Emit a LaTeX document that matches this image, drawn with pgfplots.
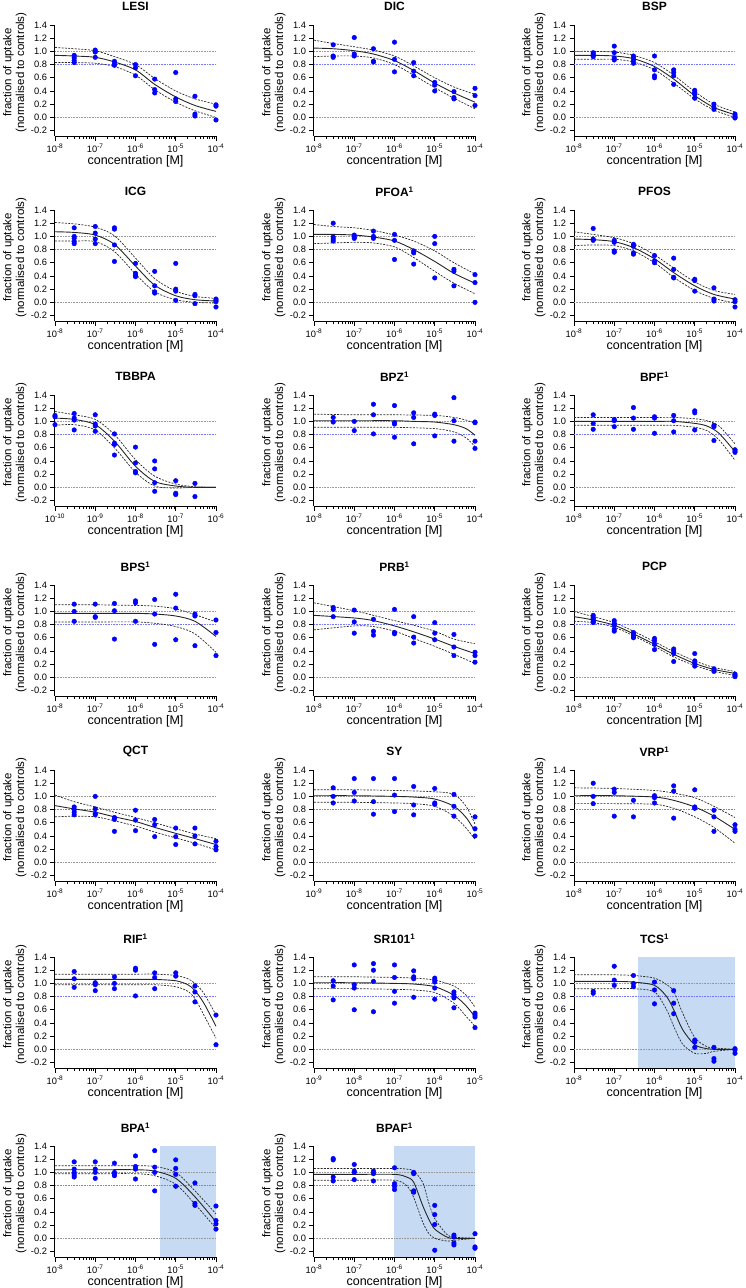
\documentclass[border=0pt]{standalone}
\usepackage{fontspec}
\setmainfont{Liberation Sans}
\usepackage{pgfplots}
\pgfplotsset{compat=1.18}

\definecolor{shade}{RGB}{198,218,244}
\definecolor{refblue}{RGB}{120,120,255}
\newcommand{\ex}[1]{10\textsuperscript{#1}}
% dotted reference lines at 1.0, 0.8 and 0.0
\newcommand{\refs}[2]{%
  \addplot[refg] coordinates {(#1,1) (#2,1)};
  \addplot[refb] coordinates {(#1,0.8) (#2,0.8)};
  \addplot[refg] coordinates {(#1,0) (#2,0)};}

\pgfplotsset{
  panel/.style={
    scale only axis, width=161pt, height=111pt, anchor=south west,
    ymin=-0.283, ymax=1.4,
    axis lines=left, axis line style={-, line width=1pt},
    tick align=outside, major tick length=4.5pt, minor tick length=2.8pt,
    tick style={black, line width=0.8pt},
    ytick={-0.2,0,0.2,0.4,0.6,0.8,1,1.2,1.4},
    yticklabels={-0.2,0.0,0.2,0.4,0.6,0.8,1.0,1.2,1.4},
    tick label style={font=\fontsize{9.3}{10}\selectfont},
    clip=false,
    title style={at={(0.5,1.11)}, anchor=center, font=\fontsize{12}{13}\selectfont\bfseries},
    xlabel={concentration [M]},
    xlabel style={at={(0.5,-0.225)}, anchor=center, font=\fontsize{12.5}{14}\selectfont},
    ylabel={fraction of uptake\\(normalised to controls)},
    ylabel style={at={(-0.25,0.572)}, anchor=center, align=center, font=\fontsize{11.5}{12.8}\selectfont},
  },
  rgA/.style={panel, xmin=1e-8, xmax=1e-4,
    xtick={1e-8,1e-7,1e-6,1e-5,1e-4},
    xticklabels={\ex{-8},\ex{-7},\ex{-6},\ex{-5},\ex{-4}},
    minor xtick={2e-8,3e-8,4e-8,5e-8,6e-8,7e-8,8e-8,9e-8,
      2e-7,3e-7,4e-7,5e-7,6e-7,7e-7,8e-7,9e-7,
      2e-6,3e-6,4e-6,5e-6,6e-6,7e-6,8e-6,9e-6,
      2e-5,3e-5,4e-5,5e-5,6e-5,7e-5,8e-5,9e-5}},
  rgB/.style={panel, xmin=1e-9, xmax=1e-5,
    xtick={1e-9,1e-8,1e-7,1e-6,1e-5},
    xticklabels={\ex{-9},\ex{-8},\ex{-7},\ex{-6},\ex{-5}},
    minor xtick={2e-9,3e-9,4e-9,5e-9,6e-9,7e-9,8e-9,9e-9,
      2e-8,3e-8,4e-8,5e-8,6e-8,7e-8,8e-8,9e-8,
      2e-7,3e-7,4e-7,5e-7,6e-7,7e-7,8e-7,9e-7,
      2e-6,3e-6,4e-6,5e-6,6e-6,7e-6,8e-6,9e-6}},
  rgC/.style={panel, xmin=1e-10, xmax=1e-6,
    xtick={1e-10,1e-9,1e-8,1e-7,1e-6},
    xticklabels={\ex{-10},\ex{-9},\ex{-8},\ex{-7},\ex{-6}},
    minor xtick={2e-10,3e-10,4e-10,5e-10,6e-10,7e-10,8e-10,9e-10,
      2e-9,3e-9,4e-9,5e-9,6e-9,7e-9,8e-9,9e-9,
      2e-8,3e-8,4e-8,5e-8,6e-8,7e-8,8e-8,9e-8,
      2e-7,3e-7,4e-7,5e-7,6e-7,7e-7,8e-7,9e-7}},
  refg/.style={gray!80, densely dotted, line width=0.6pt},
  refb/.style={refblue, densely dotted, line width=0.6pt},
  pts/.style={only marks, mark=*, mark size=2.3pt, color=blue},
  fitline/.style={black!85, line width=0.9pt, smooth},
  band/.style={black!85, line width=0.7pt, smooth, dash pattern=on 2pt off 1.3pt},
  shd/.style={fill=shade, draw=none},
}

\begin{document}
\begin{tikzpicture}
\path[use as bounding box] (0,0) rectangle (746pt,-1288pt);

% ---------------- row 1
\begin{semilogxaxis}[rgA, at={(55pt,-136pt)}, title={LESI}]
\refs{1e-8}{1e-4}
\addplot[band] coordinates {(1e-8,1.06)(3e-8,1.04)(1e-7,1.01)(3e-7,0.92)(1e-6,0.80)(3e-6,0.59)(1e-5,0.40)(3e-5,0.28)(1e-4,0.20)};
\addplot[band] coordinates {(1e-8,0.83)(3e-8,0.83)(1e-7,0.82)(3e-7,0.77)(1e-6,0.64)(3e-6,0.42)(1e-5,0.23)(3e-5,0.10)(1e-4,0.0)};
\addplot[fitline] coordinates {(1e-8,0.94)(3e-8,0.93)(1e-7,0.91)(3e-7,0.84)(1e-6,0.72)(3e-6,0.50)(1e-5,0.31)(3e-5,0.18)(1e-4,0.09)};
\addplot[pts] coordinates {(3e-8,0.94)(3e-8,0.90)(3e-8,0.86)(3e-8,0.83)
(1e-7,1.02)(1e-7,0.99)(1e-7,0.91)(3e-7,0.85)(3e-7,0.81)(3e-7,0.79)
(1e-6,0.80)(1e-6,0.75)(1e-6,0.63)(3e-6,0.58)(3e-6,0.42)(3e-6,0.37)
(1e-5,0.68)(1e-5,0.28)(1e-5,0.24)(3e-5,0.32)(3e-5,0.05)(3e-5,0.02)
(1e-4,0.19)(1e-4,0.17)(1e-4,-0.04)};
\end{semilogxaxis}

\begin{semilogxaxis}[rgA, at={(314pt,-136pt)}, title={DIC}]
\refs{1e-8}{1e-4}
\addplot[band] coordinates {(1e-8,1.17)(3e-8,1.12)(1e-7,1.07)(3e-7,1.02)(1e-6,0.93)(3e-6,0.78)(1e-5,0.60)(3e-5,0.46)(1e-4,0.35)};
\addplot[band] coordinates {(1e-8,0.92)(3e-8,0.93)(1e-7,0.93)(3e-7,0.90)(1e-6,0.80)(3e-6,0.64)(1e-5,0.45)(3e-5,0.29)(1e-4,0.13)};
\addplot[fitline] coordinates {(1e-8,1.05)(3e-8,1.04)(1e-7,1.01)(3e-7,0.96)(1e-6,0.86)(3e-6,0.71)(1e-5,0.52)(3e-5,0.37)(1e-4,0.23)};
\addplot[pts] coordinates {(3e-8,1.10)(3e-8,0.93)(3e-8,0.91)
(1e-7,1.21)(1e-7,0.96)(1e-7,0.93)(3e-7,1.04)(3e-7,0.85)(3e-7,0.84)
(1e-6,1.14)(1e-6,0.88)(1e-6,0.69)(3e-6,0.83)(3e-6,0.70)(3e-6,0.63)
(1e-5,0.53)(1e-5,0.49)(1e-5,0.40)(3e-5,0.39)(3e-5,0.30)(3e-5,0.28)
(1e-4,0.44)(1e-4,0.33)(1e-4,0.18)};
\end{semilogxaxis}

\begin{semilogxaxis}[rgA, at={(574pt,-136pt)}, title={BSP}]
\refs{1e-8}{1e-4}
\addplot[band] coordinates {(1e-8,1.0)(3e-8,1.0)(1e-7,0.99)(3e-7,0.94)(1e-6,0.83)(3e-6,0.64)(1e-5,0.39)(3e-5,0.20)(1e-4,0.08)};
\addplot[band] coordinates {(1e-8,0.88)(3e-8,0.88)(1e-7,0.88)(3e-7,0.84)(1e-6,0.72)(3e-6,0.52)(1e-5,0.28)(3e-5,0.11)(1e-4,0.0)};
\addplot[fitline] coordinates {(1e-8,0.94)(3e-8,0.94)(1e-7,0.93)(3e-7,0.89)(1e-6,0.77)(3e-6,0.58)(1e-5,0.33)(3e-5,0.15)(1e-4,0.04)};
\addplot[pts] coordinates {(3e-8,0.98)(3e-8,0.96)(3e-8,0.94)(3e-8,0.92)
(1e-7,1.08)(1e-7,0.98)(1e-7,0.90)(1e-7,0.87)(3e-7,0.93)(3e-7,0.90)(3e-7,0.86)(3e-7,0.82)
(1e-6,0.93)(1e-6,0.72)(1e-6,0.63)(1e-6,0.60)(3e-6,0.72)(3e-6,0.68)(3e-6,0.63)(3e-6,0.50)
(1e-5,0.41)(1e-5,0.38)(1e-5,0.35)(1e-5,0.29)(3e-5,0.20)(3e-5,0.15)(3e-5,0.12)
(1e-4,0.05)(1e-4,0.02)(1e-4,0.0)(1e-4,-0.01)};
\end{semilogxaxis}

% ---------------- row 2
\begin{semilogxaxis}[rgA, at={(55pt,-321pt)}, title={ICG}]
\refs{1e-8}{1e-4}
\addplot[band] coordinates {(1e-8,1.21)(3e-8,1.19)(1e-7,1.14)(3e-7,1.01)(1e-6,0.67)(3e-6,0.36)(1e-5,0.17)(3e-5,0.09)(1e-4,0.06)};
\addplot[band] coordinates {(1e-8,0.93)(3e-8,0.93)(1e-7,0.92)(3e-7,0.77)(1e-6,0.43)(3e-6,0.16)(1e-5,0.04)(3e-5,0.0)(1e-4,-0.01)};
\addplot[fitline] coordinates {(1e-8,1.07)(3e-8,1.06)(1e-7,1.02)(3e-7,0.88)(1e-6,0.55)(3e-6,0.26)(1e-5,0.10)(3e-5,0.04)(1e-4,0.02)};
\addplot[pts] coordinates {(3e-8,1.13)(3e-8,1.00)(3e-8,0.97)(3e-8,0.92)(3e-8,0.89)
(1e-7,1.15)(1e-7,1.05)(1e-7,0.96)(1e-7,0.89)(3e-7,1.13)(3e-7,1.11)(3e-7,0.87)(3e-7,0.62)
(1e-6,0.59)(1e-6,0.44)(1e-6,0.41)(1e-6,0.39)(3e-6,0.47)(3e-6,0.25)(3e-6,0.16)(3e-6,0.14)
(1e-5,0.59)(1e-5,0.20)(1e-5,0.17)(1e-5,0.03)(3e-5,0.12)(3e-5,0.10)(3e-5,-0.02)
(1e-4,0.05)(1e-4,0.03)(1e-4,0.01)(1e-4,-0.07)};
\end{semilogxaxis}

\begin{semilogxaxis}[rgA, at={(314pt,-321pt)}, title={PFOA\textsuperscript{1}}]
\refs{1e-8}{1e-4}
\addplot[band] coordinates {(1e-8,1.18)(3e-8,1.15)(1e-7,1.13)(3e-7,1.09)(1e-6,1.02)(3e-6,0.93)(1e-5,0.78)(3e-5,0.60)(1e-4,0.43)};
\addplot[band] coordinates {(1e-8,0.89)(3e-8,0.90)(1e-7,0.91)(3e-7,0.90)(1e-6,0.84)(3e-6,0.68)(1e-5,0.47)(3e-5,0.29)(1e-4,0.13)};
\addplot[fitline] coordinates {(1e-8,1.03)(3e-8,1.03)(1e-7,1.02)(3e-7,0.99)(1e-6,0.93)(3e-6,0.80)(1e-5,0.62)(3e-5,0.44)(1e-4,0.29)};
\addplot[pts] coordinates {(3e-8,1.20)(3e-8,0.99)(3e-8,0.96)(3e-8,0.93)
(1e-7,1.02)(1e-7,0.99)(1e-7,0.97)(3e-7,1.08)(3e-7,1.00)(3e-7,0.97)
(1e-6,1.03)(1e-6,0.94)(1e-6,0.65)(3e-6,0.78)(3e-6,0.75)(3e-6,0.58)
(1e-5,1.00)(1e-5,0.89)(1e-5,0.37)(3e-5,0.50)(3e-5,0.47)(3e-5,0.25)
(1e-4,0.42)(1e-4,0.30)(1e-4,0.0)};
\end{semilogxaxis}

\begin{semilogxaxis}[rgA, at={(574pt,-321pt)}, title={PFOS}]
\refs{1e-8}{1e-4}
\addplot[band] coordinates {(1e-8,1.07)(3e-8,1.03)(1e-7,0.98)(3e-7,0.89)(1e-6,0.72)(3e-6,0.52)(1e-5,0.31)(3e-5,0.18)(1e-4,0.12)};
\addplot[band] coordinates {(1e-8,0.86)(3e-8,0.87)(1e-7,0.86)(3e-7,0.78)(1e-6,0.60)(3e-6,0.38)(1e-5,0.18)(3e-5,0.06)(1e-4,-0.01)};
\addplot[fitline] coordinates {(1e-8,0.96)(3e-8,0.95)(1e-7,0.92)(3e-7,0.83)(1e-6,0.66)(3e-6,0.45)(1e-5,0.25)(3e-5,0.12)(1e-4,0.05)};
\addplot[pts] coordinates {(3e-8,1.12)(3e-8,0.96)(3e-8,0.94)
(1e-7,0.94)(1e-7,0.91)(1e-7,0.78)(1e-7,0.76)(3e-7,0.88)(3e-7,0.85)(3e-7,0.75)(3e-7,0.73)
(1e-6,0.71)(1e-6,0.63)(1e-6,0.60)(3e-6,0.67)(3e-6,0.50)(3e-6,0.38)(3e-6,0.37)
(1e-5,0.35)(1e-5,0.33)(1e-5,0.17)(3e-5,0.22)(3e-5,0.05)(3e-5,0.02)
(1e-4,0.04)(1e-4,0.01)(1e-4,-0.07)};
\end{semilogxaxis}

% ---------------- row 3
\begin{semilogxaxis}[rgC, at={(55pt,-506pt)}, title={TBBPA}]
\refs{1e-10}{1e-6}
\addplot[band] coordinates {(1e-10,1.15)(3e-10,1.10)(1e-9,1.03)(3e-9,0.80)(1e-8,0.42)(3e-8,0.17)(1e-7,0.05)(3e-7,0.01)(1e-6,0.0)};
\addplot[band] coordinates {(1e-10,0.94)(3e-10,0.95)(1e-9,0.87)(3e-9,0.60)(1e-8,0.23)(3e-8,0.02)(1e-7,-0.01)(3e-7,0.0)(1e-6,0.0)};
\addplot[fitline] coordinates {(1e-10,1.05)(3e-10,1.03)(1e-9,0.95)(3e-9,0.70)(1e-8,0.32)(3e-8,0.09)(1e-7,0.02)(3e-7,0.0)(1e-6,0.0)};
\addplot[pts] coordinates {(1e-10,1.09)(1e-10,1.07)(1e-10,0.95)
(3e-10,1.12)(3e-10,1.05)(3e-10,1.02)(3e-10,0.87)(1e-9,1.10)(1e-9,0.96)(1e-9,0.93)(1e-9,0.85)
(3e-9,0.81)(3e-9,0.67)(3e-9,0.65)(3e-9,0.49)(1e-8,0.61)(1e-8,0.37)(1e-8,0.24)(1e-8,0.22)
(3e-8,0.40)(3e-8,0.28)(3e-8,0.07)(3e-8,-0.06)(1e-7,0.10)(1e-7,-0.09)(1e-7,-0.11)
(3e-7,0.06)(3e-7,-0.14)};
\end{semilogxaxis}

\begin{semilogxaxis}[rgA, at={(314pt,-506pt)}, title={BPZ\textsuperscript{1}}]
\refs{1e-8}{1e-4}
\addplot[band] coordinates {(1e-8,1.11)(1e-7,1.10)(1e-6,1.10)(1e-5,1.09)(3e-5,1.06)(6e-5,1.02)(1e-4,0.97)};
\addplot[band] coordinates {(1e-8,0.91)(1e-7,0.91)(1e-6,0.91)(1e-5,0.89)(3e-5,0.84)(6e-5,0.75)(1e-4,0.62)};
\addplot[fitline] coordinates {(1e-8,1.01)(1e-7,1.01)(1e-6,1.01)(3e-6,1.0)(1e-5,0.99)(3e-5,0.95)(6e-5,0.89)(1e-4,0.79)};
\addplot[pts] coordinates {(3e-8,1.06)(3e-8,0.99)(1e-7,1.00)(1e-7,0.86)
(3e-7,1.26)(3e-7,1.10)(3e-7,0.81)(1e-6,1.24)(1e-6,0.98)(1e-6,0.96)(1e-6,0.76)
(3e-6,1.13)(3e-6,1.06)(3e-6,0.66)(1e-5,1.11)(1e-5,1.09)(1e-5,0.78)
(3e-5,1.36)(3e-5,1.01)(3e-5,0.70)(1e-4,0.99)(1e-4,0.98)(1e-4,0.70)(1e-4,0.59)};
\end{semilogxaxis}

\begin{semilogxaxis}[rgA, at={(574pt,-506pt)}, title={BPF\textsuperscript{1}}]
\refs{1e-8}{1e-4}
\addplot[band] coordinates {(1e-8,1.06)(1e-7,1.06)(1e-6,1.06)(3e-6,1.06)(1e-5,1.04)(2e-5,1.01)(4e-5,0.93)(1e-4,0.66)};
\addplot[band] coordinates {(1e-8,0.94)(1e-7,0.94)(1e-6,0.94)(3e-6,0.94)(1e-5,0.91)(2e-5,0.86)(4e-5,0.72)(1e-4,0.41)};
\addplot[fitline] coordinates {(1e-8,1.0)(1e-7,1.0)(1e-6,1.0)(3e-6,1.0)(1e-5,0.97)(2e-5,0.93)(4e-5,0.82)(1e-4,0.54)};
\addplot[pts] coordinates {(3e-8,1.10)(3e-8,0.97)(3e-8,0.88)(1e-7,1.03)(1e-7,1.01)(1e-7,0.92)
(3e-7,1.21)(3e-7,1.05)(3e-7,0.88)(1e-6,1.07)(1e-6,1.05)(1e-6,0.82)
(3e-6,1.09)(3e-6,1.01)(3e-6,0.84)(1e-5,1.16)(1e-5,1.13)(1e-5,0.87)
(3e-5,0.94)(3e-5,0.92)(3e-5,0.71)(1e-4,0.57)(1e-4,0.55)(1e-4,0.53)};
\end{semilogxaxis}

% ---------------- row 4
\begin{semilogxaxis}[rgA, at={(55pt,-696pt)}, title={BPS\textsuperscript{1}}]
\refs{1e-8}{1e-4}
\addplot[band] coordinates {(1e-8,1.10)(1e-7,1.10)(1e-6,1.09)(3e-6,1.08)(1e-5,1.04)(3e-5,0.95)(1e-4,0.84)};
\addplot[band] coordinates {(1e-8,0.84)(1e-7,0.84)(1e-6,0.84)(3e-6,0.82)(1e-5,0.77)(3e-5,0.66)(1e-4,0.38)};
\addplot[fitline] coordinates {(1e-8,0.97)(1e-7,0.97)(1e-6,0.97)(3e-6,0.96)(1e-5,0.93)(3e-5,0.85)(1e-4,0.62)};
\addplot[pts] coordinates {(3e-8,1.11)(3e-8,1.00)(3e-8,0.85)(1e-7,1.11)(1e-7,0.92)(1e-7,0.91)
(3e-7,1.12)(3e-7,1.01)(3e-7,0.58)(1e-6,1.16)(1e-6,1.13)(1e-6,0.85)
(3e-6,1.18)(3e-6,0.96)(3e-6,0.50)(1e-5,1.26)(1e-5,1.05)(1e-5,0.57)
(3e-5,0.96)(3e-5,0.93)(3e-5,0.48)(1e-4,0.87)(1e-4,0.68)(1e-4,0.33)};
\end{semilogxaxis}

\begin{semilogxaxis}[rgA, at={(314pt,-696pt)}, title={PRB\textsuperscript{1}}]
\refs{1e-8}{1e-4}
\addplot[band] coordinates {(1e-8,1.13)(1e-7,1.01)(3e-7,0.94)(1e-6,0.86)(3e-6,0.79)(1e-5,0.70)(3e-5,0.58)(1e-4,0.51)};
\addplot[band] coordinates {(1e-8,0.72)(1e-7,0.78)(3e-7,0.77)(1e-6,0.70)(3e-6,0.59)(1e-5,0.47)(3e-5,0.35)(1e-4,0.21)};
\addplot[fitline] coordinates {(1e-8,0.94)(1e-7,0.90)(3e-7,0.86)(1e-6,0.78)(3e-6,0.69)(1e-5,0.58)(3e-5,0.47)(1e-4,0.36)};
\addplot[pts] coordinates {(3e-8,1.06)(3e-8,1.03)(3e-8,0.92)(1e-7,1.02)(1e-7,0.84)(1e-7,0.67)
(3e-7,0.88)(3e-7,0.70)(3e-7,0.64)(1e-6,1.03)(1e-6,0.68)(1e-6,0.66)
(3e-6,0.92)(3e-6,0.61)(3e-6,0.52)(1e-5,0.83)(1e-5,0.67)(1e-5,0.57)
(3e-5,0.65)(3e-5,0.46)(3e-5,0.33)(1e-4,0.38)(1e-4,0.33)(1e-4,0.23)};
\end{semilogxaxis}

\begin{semilogxaxis}[rgA, at={(574pt,-696pt)}, title={PCP}]
\refs{1e-8}{1e-4}
\addplot[band] coordinates {(1e-8,1.0)(3e-8,0.92)(1e-7,0.83)(3e-7,0.70)(1e-6,0.54)(3e-6,0.39)(1e-5,0.25)(3e-5,0.15)(1e-4,0.09)};
\addplot[band] coordinates {(1e-8,0.85)(3e-8,0.83)(1e-7,0.76)(3e-7,0.63)(1e-6,0.47)(3e-6,0.31)(1e-5,0.18)(3e-5,0.09)(1e-4,0.03)};
\addplot[fitline] coordinates {(1e-8,0.92)(3e-8,0.87)(1e-7,0.79)(3e-7,0.66)(1e-6,0.50)(3e-6,0.35)(1e-5,0.21)(3e-5,0.12)(1e-4,0.06)};
\addplot[pts] coordinates {(3e-8,0.94)(3e-8,0.91)(3e-8,0.89)(3e-8,0.87)(3e-8,0.85)(3e-8,0.83)
(1e-7,0.86)(1e-7,0.82)(1e-7,0.79)(1e-7,0.73)(1e-7,0.70)(3e-7,0.68)(3e-7,0.65)(3e-7,0.62)(3e-7,0.60)
(1e-6,0.59)(1e-6,0.55)(1e-6,0.50)(1e-6,0.42)(3e-6,0.43)(3e-6,0.40)(3e-6,0.36)(3e-6,0.24)
(1e-5,0.36)(1e-5,0.25)(1e-5,0.21)(1e-5,0.17)(3e-5,0.13)(3e-5,0.11)(3e-5,0.09)
(1e-4,0.05)(1e-4,0.03)(1e-4,0.01)};
\end{semilogxaxis}

% ---------------- row 5
\begin{semilogxaxis}[rgA, at={(55pt,-881pt)}, title={QCT}]
\refs{1e-8}{1e-4}
\addplot[band] coordinates {(1e-8,1.02)(3e-8,0.92)(1e-7,0.84)(3e-7,0.76)(1e-6,0.68)(3e-6,0.60)(1e-5,0.51)(3e-5,0.43)(1e-4,0.36)};
\addplot[band] coordinates {(1e-8,0.69)(3e-8,0.70)(1e-7,0.69)(3e-7,0.63)(1e-6,0.55)(3e-6,0.46)(1e-5,0.37)(3e-5,0.29)(1e-4,0.19)};
\addplot[fitline] coordinates {(1e-8,0.86)(3e-8,0.81)(1e-7,0.76)(3e-7,0.69)(1e-6,0.62)(3e-6,0.53)(1e-5,0.44)(3e-5,0.36)(1e-4,0.27)};
\addplot[pts] coordinates {(3e-8,0.84)(3e-8,0.80)(3e-8,0.76)(3e-8,0.72)
(1e-7,1.00)(1e-7,0.81)(1e-7,0.74)(1e-7,0.72)(3e-7,0.68)(3e-7,0.65)(3e-7,0.47)
(1e-6,0.79)(1e-6,0.64)(1e-6,0.48)(3e-6,0.65)(3e-6,0.57)(3e-6,0.39)
(1e-5,0.52)(1e-5,0.39)(1e-5,0.27)(3e-5,0.52)(3e-5,0.40)(3e-5,0.28)
(1e-4,0.32)(1e-4,0.24)(1e-4,0.19)};
\end{semilogxaxis}

\begin{semilogxaxis}[rgB, at={(314pt,-881pt)}, title={SY}]
\refs{1e-9}{1e-5}
\addplot[band] coordinates {(1e-9,1.10)(1e-8,1.10)(1e-7,1.09)(1e-6,1.07)(3e-6,1.03)(6e-6,0.85)(1e-5,0.58)};
\addplot[band] coordinates {(1e-9,0.91)(1e-8,0.91)(1e-7,0.90)(3e-7,0.89)(1e-6,0.85)(3e-6,0.70)(6e-6,0.52)(1e-5,0.35)};
\addplot[fitline] coordinates {(1e-9,1.01)(1e-8,1.01)(1e-7,1.0)(3e-7,0.99)(1e-6,0.96)(3e-6,0.85)(6e-6,0.68)(1e-5,0.47)};
\addplot[pts] coordinates {(3e-9,1.13)(3e-9,1.00)(3e-9,0.90)(1e-8,1.27)(1e-8,1.06)(1e-8,0.93)
(3e-8,1.27)(3e-8,0.92)(3e-8,0.73)(1e-7,1.27)(1e-7,1.02)(1e-7,0.77)
(3e-7,1.15)(3e-7,0.87)(3e-7,0.72)(1e-6,1.12)(1e-6,0.90)(1e-6,0.88)
(3e-6,1.03)(3e-6,0.85)(3e-6,0.70)(1e-5,0.69)(1e-5,0.51)(1e-5,0.40)};
\end{semilogxaxis}

\begin{semilogxaxis}[rgA, at={(574pt,-881pt)}, title={VRP\textsuperscript{1}}]
\refs{1e-8}{1e-4}
\addplot[band] coordinates {(1e-8,1.13)(1e-7,1.12)(1e-6,1.09)(3e-6,1.05)(1e-5,0.98)(3e-5,0.85)(1e-4,0.68)};
\addplot[band] coordinates {(1e-8,0.89)(1e-7,0.89)(1e-6,0.88)(3e-6,0.82)(1e-5,0.69)(3e-5,0.53)(1e-4,0.29)};
\addplot[fitline] coordinates {(1e-8,1.01)(1e-7,1.01)(1e-6,0.99)(3e-6,0.94)(1e-5,0.84)(3e-5,0.70)(1e-4,0.50)};
\addplot[pts] coordinates {(3e-8,1.20)(3e-8,1.00)(3e-8,0.89)(1e-7,1.11)(1e-7,1.06)(1e-7,0.70)
(3e-7,0.94)(3e-7,0.69)(1e-6,1.01)(1e-6,0.98)(1e-6,0.90)
(3e-6,1.16)(3e-6,1.08)(3e-6,0.67)(1e-5,1.10)(1e-5,0.84)(1e-5,0.82)
(3e-5,0.79)(3e-5,0.69)(3e-5,0.47)(1e-4,0.57)(1e-4,0.50)(1e-4,0.47)};
\end{semilogxaxis}

% ---------------- row 6
\begin{semilogxaxis}[rgA, at={(55pt,-1068pt)}, title={RIF\textsuperscript{1}}]
\refs{1e-8}{1e-4}
\addplot[band] coordinates {(1e-8,1.14)(1e-7,1.14)(1e-6,1.14)(3e-6,1.14)(1e-5,1.12)(2e-5,1.07)(3e-5,1.0)(5e-5,0.85)(1e-4,0.52)};
\addplot[band] coordinates {(1e-8,0.98)(1e-7,0.98)(1e-6,0.98)(3e-6,0.98)(1e-5,0.95)(2e-5,0.88)(3e-5,0.77)(5e-5,0.52)(1e-4,0.17)};
\addplot[fitline] coordinates {(1e-8,1.06)(1e-7,1.06)(1e-6,1.06)(3e-6,1.06)(1e-5,1.04)(2e-5,0.98)(3e-5,0.89)(5e-5,0.70)(1e-4,0.35)};
\addplot[pts] coordinates {(3e-8,1.18)(3e-8,1.07)(3e-8,0.94)(1e-7,1.01)(1e-7,0.98)(1e-7,0.89)
(3e-7,1.10)(3e-7,1.00)(3e-7,0.92)(1e-6,1.23)(1e-6,1.20)(1e-6,0.81)
(3e-6,1.16)(3e-6,1.09)(3e-6,0.92)(1e-5,1.16)(1e-5,1.11)
(3e-5,0.96)(3e-5,0.87)(3e-5,0.72)(1e-4,0.52)(1e-4,0.07)};
\end{semilogxaxis}

\begin{semilogxaxis}[rgB, at={(314pt,-1068pt)}, title={SR101\textsuperscript{1}}]
\refs{1e-9}{1e-5}
\addplot[band] coordinates {(1e-9,1.10)(1e-8,1.10)(1e-7,1.09)(3e-7,1.08)(1e-6,1.05)(3e-6,0.96)(6e-6,0.82)(1e-5,0.64)};
\addplot[band] coordinates {(1e-9,0.92)(1e-8,0.92)(1e-7,0.91)(3e-7,0.90)(1e-6,0.86)(3e-6,0.70)(6e-6,0.50)(1e-5,0.35)};
\addplot[fitline] coordinates {(1e-9,1.01)(1e-8,1.01)(1e-7,1.0)(3e-7,0.99)(1e-6,0.95)(3e-6,0.82)(6e-6,0.66)(1e-5,0.49)};
\addplot[pts] coordinates {(3e-9,1.04)(3e-9,0.96)(3e-9,0.75)(1e-8,1.28)(1e-8,0.98)(1e-8,0.93)(1e-8,0.60)
(3e-8,1.30)(3e-8,1.20)(3e-8,1.03)(3e-8,0.57)(1e-7,1.28)(1e-7,1.09)(1e-7,0.88)(1e-7,0.70)
(3e-7,1.19)(3e-7,1.10)(3e-7,1.07)(3e-7,0.79)(1e-6,1.08)(1e-6,1.05)(1e-6,1.02)(1e-6,0.93)(1e-6,0.76)
(3e-6,0.87)(3e-6,0.83)(3e-6,0.80)(3e-6,0.78)(3e-6,0.63)(1e-5,0.55)(1e-5,0.52)(1e-5,0.49)(1e-5,0.33)};
\end{semilogxaxis}

\begin{semilogxaxis}[rgA, at={(574pt,-1068pt)}, title={TCS\textsuperscript{1}}]
\addplot[shd] coordinates {(3.8e-7,-0.283)(1e-4,-0.283)(1e-4,1.4)(3.8e-7,1.4)} -- cycle;
\refs{1e-8}{1e-4}
\addplot[band] coordinates {(1e-8,1.13)(1e-7,1.13)(3e-7,1.12)(1e-6,1.08)(2e-6,0.98)(3e-6,0.88)(5e-6,0.55)(1e-5,0.18)(2e-5,0.04)(3e-5,0.02)(1e-4,0.0)};
\addplot[band] coordinates {(1e-8,0.92)(1e-7,0.92)(3e-7,0.92)(1e-6,0.87)(2e-6,0.60)(3e-6,0.35)(5e-6,0.08)(1e-5,-0.06)(2e-5,-0.06)(3e-5,-0.03)(1e-4,0.0)};
\addplot[fitline] coordinates {(1e-8,1.03)(1e-7,1.03)(3e-7,1.02)(1e-6,0.97)(2e-6,0.80)(3e-6,0.60)(5e-6,0.30)(1e-5,0.07)(2e-5,0.01)(3e-5,0.0)(1e-4,0.0)};
\addplot[pts] coordinates {(3e-8,0.88)(3e-8,0.85)(1e-7,1.26)(1e-7,1.05)(1e-7,0.97)
(3e-7,1.12)(3e-7,1.00)(3e-7,0.95)(1e-6,1.02)(1e-6,0.90)(1e-6,0.69)
(3e-6,0.89)(3e-6,0.70)(3e-6,0.54)(1e-5,0.14)(1e-5,0.11)(1e-5,0.03)
(3e-5,0.03)(3e-5,-0.14)(3e-5,-0.18)(1e-4,0.01)(1e-4,-0.01)(1e-4,-0.06)};
\end{semilogxaxis}

% ---------------- row 7
\begin{semilogxaxis}[rgA, at={(55pt,-1257pt)}, title={BPA\textsuperscript{1}}]
\addplot[shd] coordinates {(4e-6,-0.283)(1e-4,-0.283)(1e-4,1.4)(4e-6,1.4)} -- cycle;
\refs{1e-8}{1e-4}
\addplot[band] coordinates {(1e-8,1.10)(1e-7,1.10)(1e-6,1.10)(3e-6,1.09)(1e-5,1.0)(3e-5,0.72)(1e-4,0.37)};
\addplot[band] coordinates {(1e-8,0.98)(1e-7,0.98)(1e-6,0.98)(3e-6,0.95)(1e-5,0.82)(3e-5,0.52)(1e-4,0.15)};
\addplot[fitline] coordinates {(1e-8,1.04)(1e-7,1.04)(1e-6,1.04)(3e-6,1.02)(1e-5,0.91)(3e-5,0.63)(1e-4,0.25)};
\addplot[pts] coordinates {(3e-8,1.16)(3e-8,1.05)(3e-8,1.00)(3e-8,0.96)(3e-8,0.93)
(1e-7,1.16)(1e-7,1.05)(1e-7,1.00)(1e-7,0.91)(3e-7,1.14)(3e-7,1.00)(3e-7,0.97)(3e-7,0.95)
(1e-6,1.25)(1e-6,1.09)(1e-6,1.05)(1e-6,0.90)(3e-6,1.33)(3e-6,1.08)(3e-6,1.00)(3e-6,0.72)
(1e-5,1.19)(1e-5,1.06)(1e-5,0.97)(1e-5,0.79)(3e-5,0.84)(3e-5,0.53)(3e-5,0.50)
(1e-4,0.49)(1e-4,0.27)(1e-4,0.22)(1e-4,0.14)};
\end{semilogxaxis}

\begin{semilogxaxis}[rgA, at={(314pt,-1257pt)}, title={BPAF\textsuperscript{1}}]
\addplot[shd] coordinates {(1e-6,-0.283)(1e-4,-0.283)(1e-4,1.4)(1e-6,1.4)} -- cycle;
\refs{1e-8}{1e-4}
\addplot[band] coordinates {(1e-8,1.06)(1e-7,1.06)(1e-6,1.06)(2e-6,1.05)(3e-6,1.02)(5e-6,0.85)(7e-6,0.55)(1e-5,0.30)(2e-5,0.06)(3e-5,0.02)(1e-4,0.0)};
\addplot[band] coordinates {(1e-8,0.88)(1e-7,0.88)(1e-6,0.88)(2e-6,0.80)(3e-6,0.62)(5e-6,0.25)(7e-6,0.08)(1e-5,0.0)(2e-5,-0.04)(3e-5,-0.03)(1e-4,0.0)};
\addplot[fitline] coordinates {(1e-8,0.97)(1e-7,0.97)(1e-6,0.97)(2e-6,0.93)(3e-6,0.85)(5e-6,0.50)(7e-6,0.30)(1e-5,0.14)(2e-5,0.02)(3e-5,0.0)(1e-4,0.0)};
\addplot[pts] coordinates {(3e-8,1.21)(3e-8,1.19)(3e-8,0.93)(3e-8,0.87)
(1e-7,1.12)(1e-7,1.02)(1e-7,1.00)(1e-7,0.89)(3e-7,1.02)(3e-7,0.98)(3e-7,0.87)
(1e-6,1.07)(1e-6,0.83)(1e-6,0.79)(1e-6,0.74)(3e-6,1.00)(3e-6,0.98)(3e-6,0.72)(3e-6,0.70)
(1e-5,0.50)(1e-5,0.36)(1e-5,0.21)(1e-5,-0.18)(3e-5,0.05)(3e-5,0.02)(3e-5,-0.07)(3e-5,-0.10)
(1e-4,0.07)(1e-4,-0.13)(1e-4,-0.15)};
\end{semilogxaxis}
\end{tikzpicture}
\end{document}
